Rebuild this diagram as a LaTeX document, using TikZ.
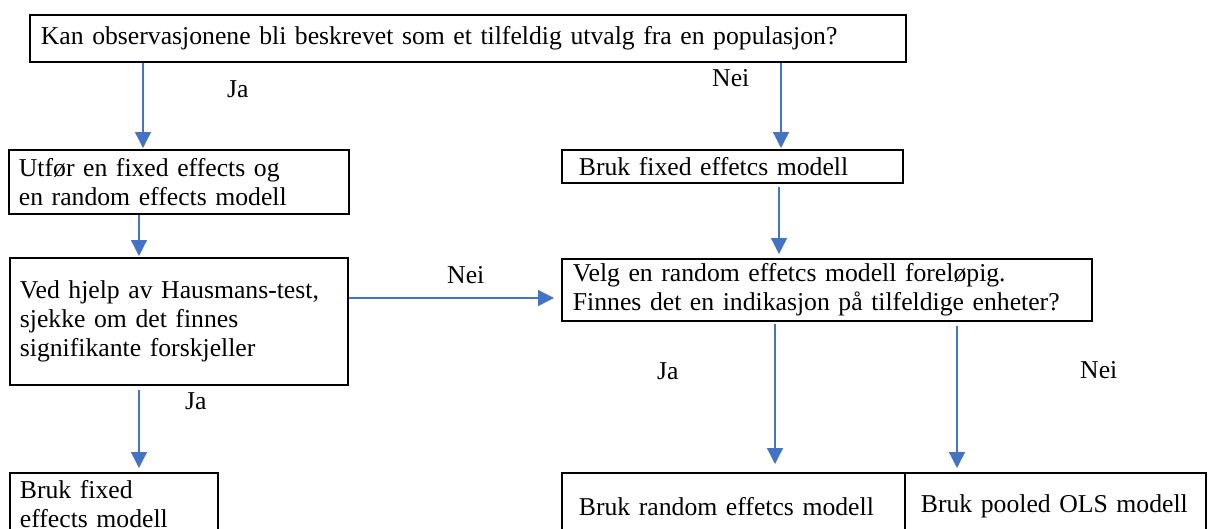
\documentclass[tikz,border=0pt]{standalone}
\usepackage{fontspec}
\setmainfont{Liberation Serif}
\usetikzlibrary{arrows.meta}
\definecolor{arrblue}{HTML}{4472C4}
\begin{document}
\begin{tikzpicture}[x=1pt,y=-1pt,
  box/.style={draw=black, line width=1.8pt, rectangle, anchor=north west, align=left,
    inner ysep=0pt, font=\fontsize{25.7}{29}\selectfont},
  arr/.style={draw=arrblue, line width=1.3pt, -{Triangle[length=16pt,width=16pt]}},
  lbl/.style={anchor=base west, inner sep=0pt, font=\fontsize{25.7}{29}\selectfont}]
\useasboundingbox (0,0) rectangle (1209,528);
\clip (0,0) rectangle (1209,528);
\fill[white] (0,0) rectangle (1209,528);

\node[box, minimum width=876pt, minimum height=47pt, inner xsep=11pt, text width=854pt] (q) at (29,14)
  {Kan observasjonene bli beskrevet som et tilfeldig utvalg fra en populasjon?};
\node[box, minimum width=340pt, minimum height=64pt, inner xsep=10pt, text width=320pt] (fe) at (8,149)
  {Utfør en fixed effects og\\en random effects modell};
\node[box, minimum width=341pt, minimum height=33pt, inner xsep=17pt, text width=307pt] (fr) at (561,149)
  {Bruk fixed effetcs modell};
\node[box, minimum width=338pt, minimum height=127pt, inner xsep=10pt, text width=318pt] (hm) at (9,257)
  {Ved hjelp av Hausmans-test,\\sjekke om det finnes\\signifikante forskjeller};
\node[box, minimum width=530pt, minimum height=62pt, inner xsep=11pt, text width=508pt] (vr) at (561,258)
  {Velg en random effetcs modell foreløpig.\\Finnes det en indikasjon på tilfeldige enheter?};
\node[box, minimum width=208pt, minimum height=62pt, inner xsep=10pt, text width=188pt] (bf) at (9,472)
  {Bruk fixed\\effects modell};
\node[box, minimum width=343pt, minimum height=67pt, inner xsep=17pt, text width=309pt] (br) at (561,472)
  {Bruk random effetcs modell};
\node[box, minimum width=301pt, minimum height=67pt, inner xsep=16pt, text width=269pt] (bp) at (904,472)
  {Bruk pooled OLS modell};

\coordinate (xa) at (143,0);
\coordinate (xb) at (781,0);
\coordinate (xc) at (139,0);
\coordinate (xd) at (779,0);
\coordinate (xe) at (775,0);
\coordinate (xf) at (957,0);
\coordinate (ya) at (0,298);

\draw[arr, shorten >=1pt] (q.south -| xa) -- (fe.north -| xa);
\draw[arr, shorten >=1pt] (q.south -| xb) -- (fr.north -| xb);
\draw[arr, shorten >=1pt] (fe.south -| xc) -- (hm.north -| xc);
\draw[arr, shorten <=3pt, shorten >=4pt] (fr.south -| xd) -- (vr.north -| xd);
\draw[arr, shorten >=7pt] (hm.east |- ya) -- (vr.west |- ya);
\draw[arr, shorten <=4pt, shorten >=4pt] (hm.south -| xc) -- (bf.north -| xc);
\draw[arr, shorten <=2pt, shorten >=8pt] (vr.south -| xe) -- (br.north -| xe);
\draw[arr, shorten <=4pt, shorten >=4pt] (vr.south -| xf) -- (bp.north -| xf);

\node[lbl] (l1) at (227,97) {Ja};
\node[lbl] (l2) at (712,86) {Nei};
\node[lbl] (l3) at (447,283) {Nei};
\node[lbl] (l4) at (185,409) {Ja};
\node[lbl] (l5) at (657,379) {Ja};
\node[lbl] (l6) at (1080,378) {Nei};
\end{tikzpicture}
\end{document}
